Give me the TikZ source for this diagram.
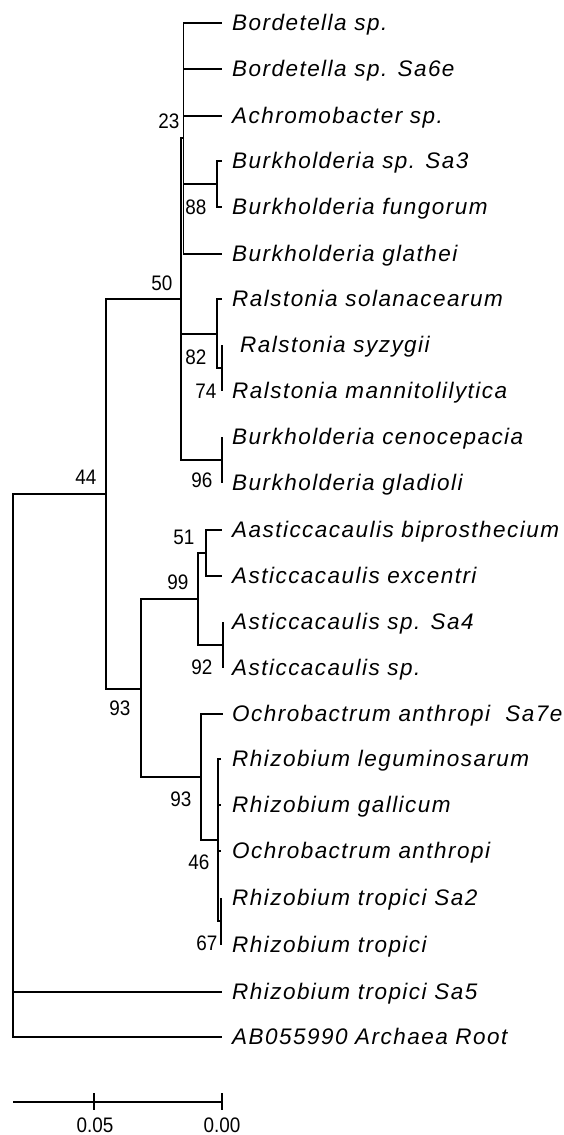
\documentclass[tikz,border=0pt]{standalone}
\usepackage{fontspec}
\newfontfamily\leaffont{Liberation Sans}[LetterSpace=6.5]
\newfontfamily\numfont{Liberation Sans}[FakeStretch=0.9]
\begin{document}
\begin{tikzpicture}[x=1pt,y=-1pt,
  br/.style={draw=black, line width=1.7pt},
  tick/.style={draw=black, line width=1.2pt},
  leaf/.style={anchor=base west, inner sep=0pt, font=\leaffont\itshape\fontsize{22.5}{22.5}\selectfont},
  bs/.style={inner sep=0pt, font=\numfont\fontsize{21}{21}\selectfont}]
\useasboundingbox[fill=white] (0,0) rectangle (564,1135);
% internal nodes
\coordinate (root) at (13,765);
\coordinate (n44) at (106,494);
\coordinate (n50) at (181,299);
\coordinate (n23) at (183.5,138);
\coordinate (n88) at (217,184);
\coordinate (n82) at (217,334);
\coordinate (n74) at (222,368);
\coordinate (n96) at (222,460);
\coordinate (n93a) at (141,689);
\coordinate (n99) at (198,599);
\coordinate (n51) at (206,553);
\coordinate (n92) at (223,645);
\coordinate (n93b) at (201,777);
\coordinate (n46) at (218,840);
\coordinate (n67) at (221,921);
% tips
\coordinate (t1) at (222,23);
\coordinate (t2) at (222,69);
\coordinate (t3) at (222,116);
\coordinate (t4) at (222,161);
\coordinate (t5) at (222,207);
\coordinate (t6) at (222,254);
\coordinate (t7) at (222,299);
\coordinate (t8) at (222,345);
\coordinate (t9) at (222,391);
\coordinate (t10) at (222,437);
\coordinate (t11) at (222,483);
\coordinate (t12) at (222,530);
\coordinate (t13) at (222,576);
\coordinate (t14) at (223,622);
\coordinate (t15) at (223,668);
\coordinate (t16) at (223,714);
\coordinate (t17) at (221,759);
\coordinate (t18) at (221,805);
\coordinate (t19) at (221,851);
\coordinate (t20) at (221,898);
\coordinate (t21) at (221,945);
\coordinate (t22) at (222,992);
\coordinate (t23) at (222,1037);
% branches
\path[br] (root) |- (n44) (root) |- (t22) (root) |- (t23);
\path[br] (n44) |- (n50) (n44) |- (n93a);
\path[br] (n50) |- (n23) (n50) |- (n82) (n50) |- (n96);
\path[br] (n23) |- (t1) (n23) |- (t2) (n23) |- (t3) (n23) |- (n88) (n23) |- (t6);
\path[br] (n88) |- (t4) (n88) |- (t5);
\path[br] (n82) |- (t7) (n82) |- (n74);
\path[br] (n74) |- (t8) (n74) |- (t9);
\path[br] (n96) |- (t10) (n96) |- (t11);
\path[br] (n93a) |- (n99) (n93a) |- (n93b);
\path[br] (n99) |- (n51) (n99) |- (n92);
\path[br] (n51) |- (t12) (n51) |- (t13);
\path[br] (n92) |- (t14) (n92) |- (t15);
\path[br] (n93b) |- (t16) (n93b) |- (n46);
\path[br] (n46) |- (t17) (n46) |- (t18) (n46) |- (t19) (n46) |- (n67);
\path[br] (n67) |- (t20) (n67) |- (t21);
% leaf labels
\node[leaf] (l1) at (232,30) {Bordetella sp.};
\node[leaf] (l2) at (232,76) {Bordetella sp. Sa6e};
\node[leaf] (l3) at (232,123) {Achromobacter sp.};
\node[leaf] (l4) at (232,168) {Burkholderia sp. Sa3};
\node[leaf] (l5) at (232,214) {Burkholderia fungorum};
\node[leaf] (l6) at (232,261) {Burkholderia glathei};
\node[leaf] (l7) at (232,306) {Ralstonia solanacearum};
\node[leaf] (l8) at (240,352) {Ralstonia syzygii};
\node[leaf] (l9) at (232,398) {Ralstonia mannitolilytica};
\node[leaf] (l10) at (232,444) {Burkholderia cenocepacia};
\node[leaf] (l11) at (232,490) {Burkholderia gladioli};
\node[leaf] (l12) at (232,537) {Aasticcacaulis biprosthecium};
\node[leaf] (l13) at (232,583) {Asticcacaulis excentri};
\node[leaf] (l14) at (232,629) {Asticcacaulis sp. Sa4};
\node[leaf] (l15) at (232,675) {Asticcacaulis sp.};
\node[leaf] (l16) at (232,721) {Ochrobactrum anthropi\ \ Sa7e};
\node[leaf] (l17) at (232,766) {Rhizobium leguminosarum};
\node[leaf] (l18) at (232,812) {Rhizobium gallicum};
\node[leaf] (l19) at (232,858) {Ochrobactrum anthropi};
\node[leaf] (l20) at (232,905) {Rhizobium tropici Sa2};
\node[leaf] (l21) at (232,952) {Rhizobium tropici};
\node[leaf] (l22) at (232,999) {Rhizobium tropici Sa5};
\node[leaf] (l23) at (232,1044) {AB055990 Archaea Root};
% bootstrap values
\node[bs] (b23) at (169,121) {23};
\node[bs] (b88) at (196,207) {88};
\node[bs] (b50) at (162,283) {50};
\node[bs] (b82) at (196,357) {82};
\node[bs] (b74) at (206,391) {74};
\node[bs] (b96) at (202,480) {96};
\node[bs] (b44) at (86,477) {44};
\node[bs] (b51) at (184,537) {51};
\node[bs] (b99) at (178,582) {99};
\node[bs] (b92) at (202,667) {92};
\node[bs] (b93a) at (120,708) {93};
\node[bs] (b93b) at (181,799) {93};
\node[bs] (b46) at (199,862) {46};
\node[bs] (b67) at (207,943) {67};
% scale bar
\coordinate (sb0) at (13,1102);
\coordinate (sb2) at (222,1102);
\coordinate (k1a) at (94,1093);
\coordinate (k1b) at (94,1110);
\coordinate (k2a) at (222,1093);
\coordinate (k2b) at (222,1110);
\path[br] (sb0) -- (sb2);
\path[tick] (k1a) -- (k1b) (k2a) -- (k2b);
\node[bs] (s05) at (95,1125) {0.05};
\node[bs] (s00) at (222,1125) {0.00};
\end{tikzpicture}
\end{document}
